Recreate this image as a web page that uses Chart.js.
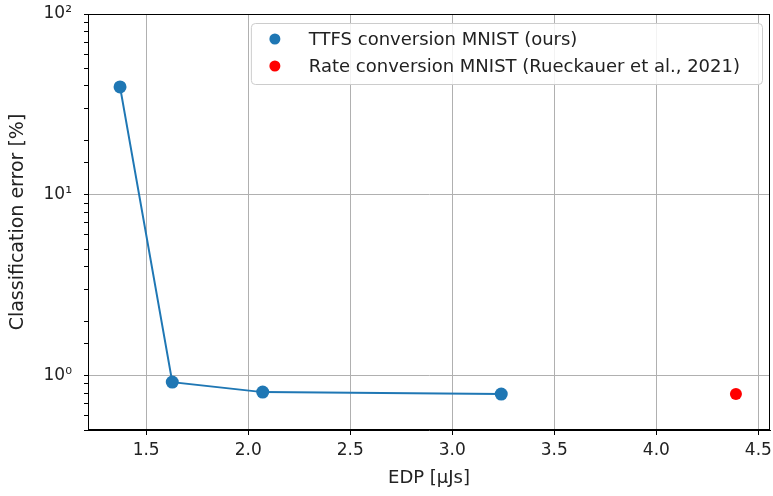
<!DOCTYPE html>
<html>
<head>
<meta charset="utf-8">
<script src="https://cdn.jsdelivr.net/npm/chart.js@4/dist/chart.umd.min.js"></script>
<style>
  html, body { margin: 0; padding: 0; background: #fff; }
  #wrap { width: 773px; height: 496px; }
</style>
</head>
<body>
<div id="wrap"><canvas id="chart" width="773" height="496"></canvas></div>
<script>
// data
const seriesNames = ["TTFS conversion MNIST (ours)", "Rate conversion MNIST (Rueckauer et al., 2021)"];
const edpOurs = [1.372, 1.628, 2.071, 3.24];
const errOurs = [39.5, 0.92, 0.81, 0.79];
const edpRate = [4.39];
const errRate = [0.79];
const xTicks = [1.5, 2.0, 2.5, 3.0, 3.5, 4.0, 4.5];
const sup = { "-1": "⁻¹", "0": "⁰", "1": "¹", "2": "²" };

const FONT = "'DejaVu Sans', sans-serif";
const TXT = "#222";

const toPoints = (xs, ys) => xs.map((x, i) => ({ x, y: ys[i] }));
const isDecade = (v) => Math.abs(Math.log10(v) - Math.round(Math.log10(v))) < 1e-9;

// black frame around the plot area (matplotlib spines)
const framePlugin = {
  id: "frame",
  afterDatasetsDraw(chart) {
    const { ctx, chartArea: a } = chart;
    ctx.save();
    ctx.strokeStyle = "#000";
    ctx.lineWidth = 1;
    ctx.strokeRect(a.left + 0.5, a.top + 0.5, a.right - a.left - 1, a.bottom - a.top - 1);
    ctx.restore();
  },
};

// legend boxed inside the upper right of the plot
const boxLegend = {
  id: "boxLegend",
  afterDraw(chart) {
    const { ctx, chartArea: a } = chart;
    const sets = chart.data.datasets;
    ctx.save();
    ctx.font = "18px " + FONT;
    const textW = Math.max(...sets.map((d) => ctx.measureText(d.label).width));
    const w = 58 + textW + 22;
    const h = 61;
    const right = a.right - 8;
    const left = right - w;
    const top = a.top + 9;
    ctx.fillStyle = "rgba(255,255,255,0.85)";
    ctx.strokeStyle = "#cccccc";
    ctx.lineWidth = 1;
    ctx.beginPath();
    ctx.roundRect(left + 0.5, top + 0.5, w, h, 4);
    ctx.fill();
    ctx.stroke();
    sets.forEach((d, i) => {
      const cy = top + 16 + i * 27;
      ctx.fillStyle = d.backgroundColor;
      ctx.beginPath();
      ctx.arc(left + 24, cy, 5.5, 0, Math.PI * 2);
      ctx.fill();
      ctx.fillStyle = TXT;
      ctx.textBaseline = "middle";
      ctx.fillText(d.label, left + 58, cy + 1);
    });
    ctx.restore();
  },
};

new Chart(document.getElementById("chart"), {
  type: "scatter",
  data: {
    datasets: [
      {
        label: seriesNames[0],
        data: toPoints(edpOurs, errOurs),
        showLine: true,
        borderColor: "#1f77b4",
        backgroundColor: "#1f77b4",
        borderWidth: 2,
        pointRadius: 6.5,
        pointBorderWidth: 0,
      },
      {
        label: seriesNames[1],
        data: toPoints(edpRate, errRate),
        borderColor: "#ff0000",
        backgroundColor: "#ff0000",
        pointRadius: 6,
        pointBorderWidth: 0,
      },
    ],
  },
  options: {
    responsive: false,
    animation: false,
    layout: { autoPadding: false, padding: { left: 0, top: 14, right: 3, bottom: 0 } },
    plugins: {
      legend: { display: false },
      tooltip: { enabled: false },
    },
    scales: {
      x: {
        type: "linear",
        min: 1.215,
        max: 4.557,
        afterBuildTicks: (s) => { s.ticks = xTicks.map((v) => ({ value: v })); },
        afterFit: (s) => { s.height = 66; s.paddingLeft = 0; s.paddingRight = 0; },
        ticks: {
          includeBounds: false,
          color: TXT,
          font: { family: FONT, size: 17 },
          padding: 5,
          maxRotation: 0,
          callback: (v) => v.toFixed(1),
        },
        grid: { color: "#b0b0b0", tickColor: "#000", tickLength: 5 },
        border: { color: "#000" },
        title: {
          display: true,
          text: "EDP [μJs]",
          color: TXT,
          font: { family: FONT, size: 18 },
          padding: { top: 0, bottom: 7 },
        },
      },
      y: {
        type: "logarithmic",
        min: 0.5,
        max: 100,
        afterFit: (s) => { s.width = 88; s.paddingTop = 0; s.paddingBottom = 0; },
        ticks: {
          autoSkip: false,
          color: TXT,
          font: { family: FONT, size: 17 },
          padding: 12,
          callback: (v) => (isDecade(v) ? "10" + sup[Math.round(Math.log10(v))] : ""),
        },
        grid: {
          color: (c) => (c.tick && isDecade(c.tick.value) ? "#b0b0b0" : "rgba(0,0,0,0)"),
          tickColor: "#000",
          tickLength: 4,
        },
        border: { color: "#000" },
        title: {
          display: true,
          text: "Classification error [%]",
          color: TXT,
          font: { family: FONT, size: 19 },
          padding: { top: 7, bottom: 0 },
        },
      },
    },
  },
  plugins: [framePlugin, boxLegend],
});
</script>
</body>
</html>
